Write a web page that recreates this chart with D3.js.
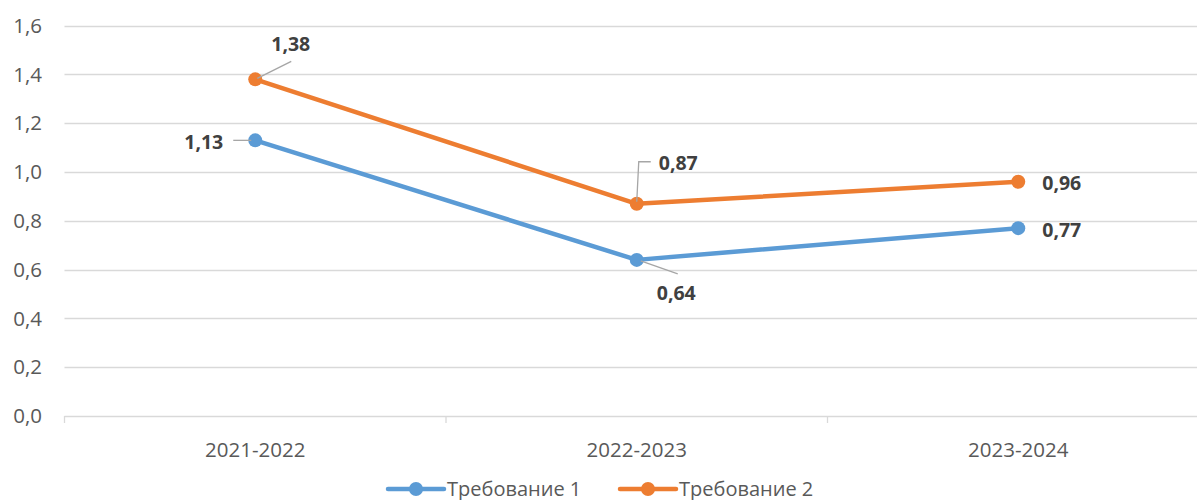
<!DOCTYPE html>
<html><head><meta charset="utf-8">
<script src="https://cdn.jsdelivr.net/npm/d3@7"></script>
<style>body{margin:0;background:#fff}svg{display:block}</style>
</head><body>
<svg id="c" width="1197" height="500"></svg>
<script>
const categories = ["2021-2022", "2022-2023", "2023-2024"];
const series1 = [1.13, 0.64, 0.77];
const series2 = [1.38, 0.87, 0.96];
const seriesNames = ["Требование 1", "Требование 2"];
const yTicks = [0, 0.2, 0.4, 0.6, 0.8, 1.0, 1.2, 1.4, 1.6];
const colors = ["#5B9BD5", "#ED7D31"];

const svg = d3.select("#c");
const font = "'Open Sans', 'Liberation Sans', sans-serif";
const x = d3.scaleBand().domain(categories).range([64.5, 64.5 + 381.5 * 3]);
const y = d3.scaleLinear().domain([0, 1.6]).range([416, 25.7]);
const fmt = v => d3.format(".1f")(v).replace(".", ",");
const fmt2 = v => d3.format(".2f")(v).replace(".", ",");

// gridlines
svg.append("g").selectAll("line").data(yTicks).join("line")
  .attr("x1", 64.5).attr("x2", 1197)
  .attr("y1", d => Math.round(y(d)) + 0.5).attr("y2", d => Math.round(y(d)) + 0.5)
  .attr("stroke", "#D9D9D9").attr("stroke-width", 1.3);

// y labels
svg.append("g").selectAll("text").data(yTicks).join("text")
  .attr("x", 42).attr("y", d => y(d)).attr("dy", "0.35em")
  .attr("text-anchor", "end").attr("font-family", font).attr("font-size", 20.5)
  .attr("fill", "#595959").text(fmt);

// x ticks (band boundaries)
const bounds = categories.map(c => x(c));
svg.append("g").selectAll("line").data(bounds).join("line")
  .attr("x1", d => d).attr("x2", d => d).attr("y1", 416).attr("y2", 423)
  .attr("stroke", "#D9D9D9").attr("stroke-width", 1.3);

// x labels
svg.append("g").selectAll("text").data(categories).join("text")
  .attr("x", d => x(d) + x.bandwidth() / 2).attr("y", 450).attr("dy", "0.35em")
  .attr("text-anchor", "middle").attr("font-family", font).attr("font-size", 20.5)
  .attr("fill", "#595959").text(d => d);

const cx = c => x(c) + x.bandwidth() / 2;
const line = d3.line().x((d, i) => cx(categories[i])).y(d => y(d));

[series1, series2].forEach((s, k) => {
  svg.append("path").datum(s).attr("d", line).attr("fill", "none")
    .attr("stroke", colors[k]).attr("stroke-width", 4.5).attr("stroke-linejoin", "round");
  svg.append("g").selectAll("circle").data(s).join("circle")
    .attr("cx", (d, i) => cx(categories[i])).attr("cy", d => y(d)).attr("r", 7)
    .attr("fill", colors[k]);
});

// leader lines
const lead = svg.append("g").attr("stroke", "#A6A6A6").attr("stroke-width", 1.3).attr("fill", "none");
const p = (i, v) => [cx(categories[i]), y(v)];
{
  const [a, b] = p(0, series2[0]);
  lead.append("path").attr("d", `M${a + 2},${b - 1}L${a + 36},${b - 18}`);
}
{
  const [a, b] = p(0, series1[0]);
  lead.append("path").attr("d", `M${a - 22},${b}L${a - 4},${b}`);
}
{
  const [a, b] = p(1, series2[1]);
  lead.append("path").attr("d", `M${a},${b - 2}L${a + 2},${b - 42}L${a + 14},${b - 42}`);
}
{
  const [a, b] = p(1, series1[1]);
  lead.append("path").attr("d", `M${a + 4},${b + 1}L${a + 41},${b + 14}`);
}

// data labels
const labels = [
  {s: series2, i: 0, dx: 16, dy: -35, anchor: "start"},
  {s: series1, i: 0, dx: -32, dy: 1.5, anchor: "end"},
  {s: series2, i: 1, dx: 22, dy: -41, anchor: "start"},
  {s: series1, i: 1, dx: 20, dy: 33, anchor: "start"},
  {s: series2, i: 2, dx: 24, dy: 1, anchor: "start"},
  {s: series1, i: 2, dx: 24, dy: 2, anchor: "start"},
];
svg.append("g").selectAll("text").data(labels).join("text")
  .attr("x", d => cx(categories[d.i]) + d.dx).attr("y", d => y(d.s[d.i]) + d.dy).attr("dy", "0.35em")
  .attr("text-anchor", d => d.anchor).attr("font-family", font).attr("font-size", 19.5)
  .attr("font-weight", "bold").attr("fill", "#404040").text(d => fmt2(d.s[d.i]));

// legend
const legX = [388, 620];
seriesNames.forEach((n, k) => {
  const g = svg.append("g").attr("transform", `translate(${legX[k]},489)`);
  g.append("line").attr("x1", 0).attr("x2", 56).attr("stroke", colors[k]).attr("stroke-width", 4.5).attr("stroke-linecap", "round");
  g.append("circle").attr("cx", 28).attr("r", 7).attr("fill", colors[k]);
  g.append("text").attr("x", 59).attr("y", 6.5).attr("font-family", font)
    .attr("font-size", 20).attr("fill", "#595959").text(n);
});
</script>
</body></html>
